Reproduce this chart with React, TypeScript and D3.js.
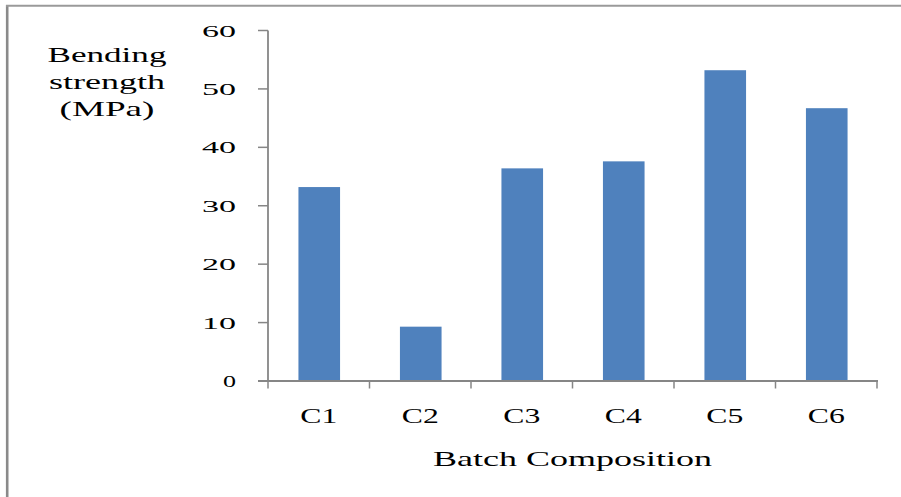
import React from "react";
import * as d3 from "d3";

const categories: string[] = ["C1", "C2", "C3", "C4", "C5", "C6"];
const strength: number[] = [33.2, 9.3, 36.4, 37.6, 53.2, 46.7];
const yTicks: number[] = [0, 10, 20, 30, 40, 50, 60];
const yTitleLines: string[] = ["Bending", "strength", "(MPa)"];
const xTitle = "Batch Composition";

const W = 901;
const H = 497;
const plot = { left: 268, right: 877, top: 30.5, bottom: 381 };
const barColor = "#4F81BD";
const axisColor = "#868686";
const serif = "Liberation Serif, DejaVu Serif, serif";

export default function App() {
  const x = d3
    .scaleBand<string>()
    .domain(categories)
    .range([plot.left, plot.right])
    .paddingInner(0)
    .paddingOuter(0);
  const y = d3.scaleLinear().domain([0, 60]).range([plot.bottom, plot.top]);
  const step = x.step();
  const barW = step * 0.41;

  // boundaries between categories carry the x-axis tick marks
  const boundaries = d3.range(categories.length + 1).map((i) => plot.left + i * step);

  const tickLabelWidth = (t: number) => (String(t).length === 1 ? 13 : 34);
  const yTitleWidths = [119, 116, 95];

  return (
    <svg
      width={W}
      height={H}
      style={{ position: "absolute", left: 0, top: 0, background: "#fff" }}
    >
      <rect x={0} y={0} width={W} height={H} fill="#fff" />
      {/* frame edges */}
      <line x1={7.2} y1={5} x2={7.2} y2={H} stroke="#8a8a8a" strokeWidth={2.6} />
      <line x1={6} y1={5.8} x2={W} y2={5.8} stroke="#9a9a9a" strokeWidth={2} />

      {/* bars */}
      {categories.map((c, i) => {
        const cx = (x(c) as number) + step / 2;
        return (
          <rect
            key={c}
            x={cx - barW / 2 + 0.5}
            y={y(strength[i])}
            width={barW}
            height={y(0) - y(strength[i])}
            fill={barColor}
          />
        );
      })}

      <g fontFamily={serif} fill="#000">
        {/* y axis */}
        <line x1={plot.left} y1={plot.top} x2={plot.left} y2={plot.bottom} stroke={axisColor} strokeWidth={1.8} />
        {yTicks.map((t) => (
          <g key={t}>
            <line x1={plot.left - 10} y1={y(t)} x2={plot.left} y2={y(t)} stroke={axisColor} strokeWidth={1.5} />
            <text
              x={236}
              y={y(t) + 6}
              textAnchor="end"
              fontSize={17}
              textLength={tickLabelWidth(t)}
              lengthAdjust="spacingAndGlyphs"
            >
              {t}
            </text>
          </g>
        ))}

        {/* x axis */}
        <line x1={plot.left - 10} y1={plot.bottom} x2={plot.right + 1} y2={plot.bottom} stroke={axisColor} strokeWidth={1.8} />
        {boundaries.map((bx, i) => (
          <line key={i} x1={bx} y1={plot.bottom} x2={bx} y2={plot.bottom + 7.5} stroke={axisColor} strokeWidth={1.5} />
        ))}
        {categories.map((c) => (
          <text
            key={c}
            x={(x(c) as number) + step / 2}
            y={423}
            textAnchor="middle"
            fontSize={21}
            textLength={37}
            lengthAdjust="spacingAndGlyphs"
          >
            {c}
          </text>
        ))}

        {/* axis titles */}
        <text
          x={(plot.left + plot.right) / 2}
          y={466}
          textAnchor="middle"
          fontSize={21}
          textLength={279}
          lengthAdjust="spacingAndGlyphs"
        >
          {xTitle}
        </text>
        {yTitleLines.map((line, i) => (
          <text
            key={line}
            x={107}
            y={62 + i * 27}
            textAnchor="middle"
            fontSize={21}
            textLength={yTitleWidths[i]}
            lengthAdjust="spacingAndGlyphs"
          >
            {line}
          </text>
        ))}
      </g>
    </svg>
  );
}
